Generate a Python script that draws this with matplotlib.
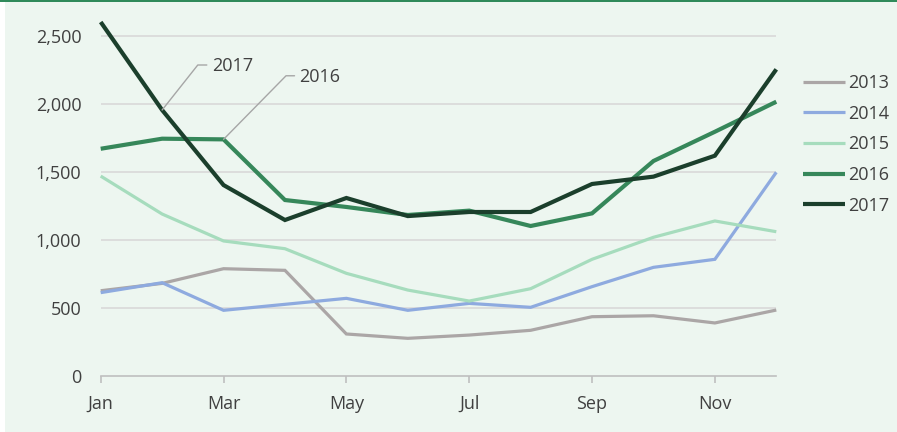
import matplotlib
matplotlib.use("Agg")
import matplotlib.pyplot as plt
from matplotlib.patches import Rectangle

months = ["Jan", "Feb", "Mar", "Apr", "May", "Jun", "Jul", "Aug", "Sep", "Oct", "Nov", "Dec"]
y2013 = [627, 681, 789, 777, 309, 277, 301, 336, 436, 443, 390, 485]
y2014 = [613, 686, 483, 527, 571, 483, 534, 505, 657, 799, 858, 1498]
y2015 = [1470, 1191, 993, 936, 755, 632, 551, 642, 858, 1020, 1140, 1061]
y2016 = [1671, 1745, 1740, 1294, 1243, 1184, 1216, 1103, 1196, 1581, 1796, 2017]
y2017 = [2603, 1956, 1404, 1147, 1309, 1176, 1206, 1206, 1412, 1466, 1620, 2255]
yticks = [0, 500, 1000, 1500, 2000, 2500]

series = [
    ("2013", y2013, "#aba6a6", 2.3),
    ("2014", y2014, "#8eaadf", 2.3),
    ("2015", y2015, "#a6dcbd", 2.3),
    ("2016", y2016, "#36875a", 3.0),
    ("2017", y2017, "#1b3f2c", 3.0),
]

plt.rcParams["font.family"] = ["Open Sans", "DejaVu Sans"]
text_color = "#404040"

W, H = 897, 432
fig = plt.figure(figsize=(W / 100, H / 100), dpi=100, facecolor="white")
fig.add_artist(Rectangle((5 / W, 0), 1, 1 - 2 / H, transform=fig.transFigure,
                         facecolor="#edf6f0", edgecolor="none", zorder=-10))
fig.add_artist(Rectangle((0, 1 - 2 / H), 1, 2 / H, transform=fig.transFigure,
                         facecolor="#2f8a5a", edgecolor="none", zorder=-10))

ax = fig.add_axes([100.7 / W, 56 / H, 675.6 / W, 356.3 / H])
ax.set_facecolor("none")
x = list(range(len(months)))

for label, vals, color, lw in series:
    ax.plot(x, vals, color=color, lw=lw, label=label, solid_capstyle="butt",
            solid_joinstyle="miter", clip_on=False, zorder=3)

ax.set_xlim(0, 11)
ax.set_ylim(0, 2620)
ax.set_yticks(yticks)
ax.set_yticklabels([f"{v:,}" for v in yticks])
ax.set_xticks(x[::2])
ax.set_xticklabels(months[::2])
for v in yticks[1:]:
    ax.axhline(v, color="#d9d9d9", lw=1.2, zorder=1)

for s in ["top", "right", "left"]:
    ax.spines[s].set_visible(False)
ax.spines["bottom"].set_color("#bfbfbf")
ax.spines["bottom"].set_linewidth(1.2)
ax.tick_params(axis="y", length=0, pad=14, labelsize=13, labelcolor=text_color)
ax.tick_params(axis="x", length=5, width=1.2, color="#bfbfbf", pad=8.5,
               labelsize=13, labelcolor=text_color)

# leader labels: elbow offsets in pixels from the data point
px = 0.72
for label, vals, idx, ang, dx, dy in [("2017", y2017, 1, 51.6, 44.7, 45),
                                      ("2016", y2016, 2, 45.5, 71.0, 63.6)]:
    ax.annotate("", xy=(idx, vals[idx]), xytext=(dx * px, dy * px),
                textcoords="offset points",
                arrowprops=dict(arrowstyle="-", color="#a6a6a6", lw=1.0,
                                connectionstyle=f"angle,angleA=0,angleB={ang},rad=0",
                                shrinkA=0, shrinkB=0, patchA=None))
    ax.annotate(label, xy=(idx, vals[idx]), xytext=((dx + 5) * px, (dy - 1.5) * px),
                textcoords="offset points", ha="left", va="center",
                fontsize=13, color=text_color)

leg = ax.legend(loc="upper left", bbox_to_anchor=(803 / W, 1 - 74 / H),
                bbox_transform=fig.transFigure, frameon=False, fontsize=13,
                handlelength=2.3, handletextpad=0.2, labelspacing=0.7,
                borderpad=0, borderaxespad=0, labelcolor=text_color)

fig.savefig("out.png", dpi=100, facecolor=fig.get_facecolor())
